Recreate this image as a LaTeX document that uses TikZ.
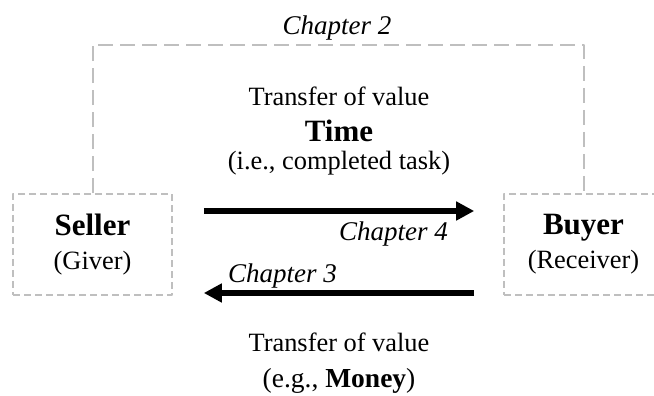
\documentclass[tikz,border=0pt]{standalone}
\usepackage{fontspec}
\setmainfont{Liberation Serif}
\usetikzlibrary{arrows.meta}

\tikzset{
	party/.style = {draw=black!25, line width=1.6pt, dash pattern=on 7pt off 4pt,
		minimum width=159pt, minimum height=101pt, inner sep=0pt, align=center,
		font=\fontsize{26.4}{34}\selectfont},
	link/.style = {draw=black!25, line width=2pt, dash pattern=on 15pt off 7pt},
	flow/.style = {line width=5.5pt, -{Triangle[length=18pt, width=18pt]}},
	chap/.style = {font=\fontsize{27}{30}\selectfont\itshape, inner sep=0pt},
	txt/.style = {font=\fontsize{26.4}{30}\selectfont, inner sep=0pt},
	big/.style = {font=\fontsize{31}{34}\selectfont\bfseries, inner sep=0pt},
}

\begin{document}
\begin{tikzpicture}[
		x = 1pt,
		y = 1pt,
		line join = round,
		]
\useasboundingbox (0,0) rectangle (654,396);

% the two parties
\node[party] (seller) at (92.5,151.5) {{\fontsize{31}{34}\selectfont\bfseries Seller}\\(Giver)};
\node[party] (buyer)  at (583.5,151.5) {{\fontsize{31}{34}\selectfont\bfseries Buyer}\\(Receiver)};

% link over the top
\coordinate (top) at (337,351);
\draw[link]	(seller.north) |- (top) -| (buyer.north);
\node[chap, anchor=base] (ch2) at (337,361) {Chapter 2};

% transfers
\draw[flow, shorten <=31pt, shorten >=29pt]	([yshift=33.5pt]seller.east) -- ([yshift=33.5pt]buyer.west);
\draw[flow, shorten <=29pt, shorten >=31pt]	([yshift=-48.5pt]buyer.west) -- ([yshift=-48.5pt]seller.east);
\node[chap, anchor=base east] (ch4) at (448,155) {Chapter 4};
\node[chap, anchor=base west] (ch3) at (228,113) {Chapter 3};

% what is transferred
\node[txt, anchor=base] (time1) at (339,290) {Transfer of value};
\node[big, anchor=base] (time2) at (339,254) {Time};
\node[txt, anchor=base] (time3) at (339,226) {(i.e., completed task)};
\node[txt, anchor=base] (money1) at (339,44) {Transfer of value};
\node[txt, anchor=base, font=\fontsize{27.5}{30}\selectfont] (money2) at (339,8) {(e.g., \textbf{Money})};
\end{tikzpicture}
\end{document}
